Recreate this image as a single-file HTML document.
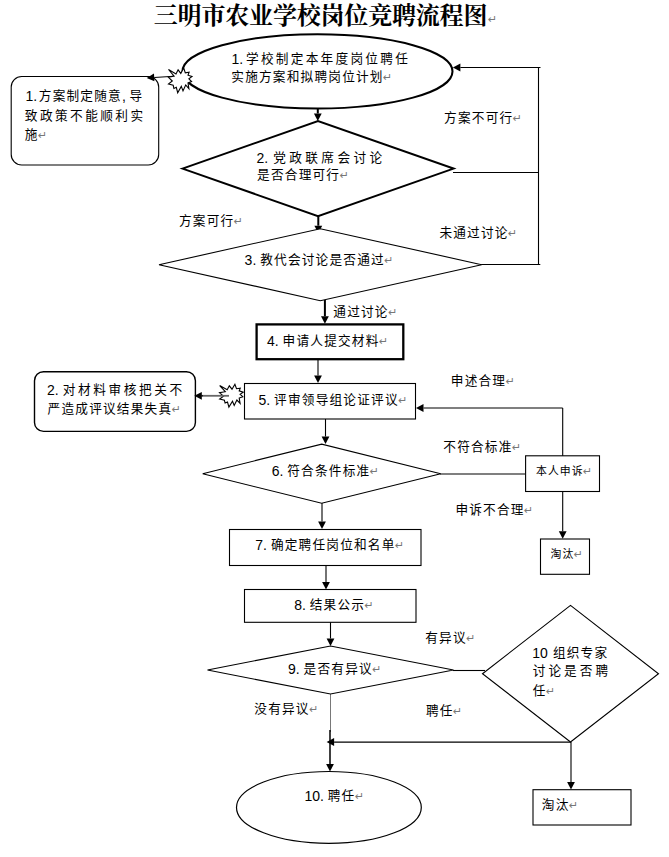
<!DOCTYPE html>
<html lang="zh-CN">
<head>
<meta charset="utf-8">
<title>三明市农业学校岗位竞聘流程图</title>
<style>
html,body{margin:0;padding:0;background:#fff;}
body{width:669px;height:857px;overflow:hidden;}
svg{display:block;}
text{font-family:"Liberation Sans", "Noto Sans CJK SC", sans-serif;fill:#000;dominant-baseline:central;white-space:pre;}
.t{font-weight:400;}
.title{font-family:"Liberation Serif","Noto Serif CJK SC",serif;font-weight:700;}
.r{fill:#777;font-size:11px;font-family:"DejaVu Sans","Liberation Sans",sans-serif;font-weight:400;}
</style>
</head>
<body>
<svg width="669" height="857" viewBox="0 0 669 857">
<rect x="0" y="0" width="669" height="857" fill="#fff"/>
<text class="title" x="153.8" y="16" font-size="24" textLength="333.6" lengthAdjust="spacing">三明市农业学校岗位竞聘流程图</text>
<text class="r" x="488" y="19">↵</text>
<line x1="538.5" y1="67" x2="538.5" y2="264.5" stroke="#000" stroke-width="1.1"/>
<line x1="540.5" y1="67.5" x2="460.40" y2="67.50" stroke="#000" stroke-width="1.1"/>
<polygon points="452.9,67.5 460.40,63.60 460.40,71.40" fill="#000"/>
<line x1="453" y1="172.5" x2="538.5" y2="172.5" stroke="#000" stroke-width="1.1"/>
<line x1="481" y1="264.5" x2="540.3" y2="264.5" stroke="#000" stroke-width="1.1"/>
<line x1="317.8" y1="108.5" x2="317.80" y2="113.50" stroke="#000" stroke-width="2"/>
<polygon points="317.8,121 313.90,113.50 321.70,113.50" fill="#000"/>
<line x1="318.3" y1="216" x2="318.30" y2="225.70" stroke="#000" stroke-width="2"/>
<polygon points="318.3,233.2 314.40,225.70 322.20,225.70" fill="#000"/>
<line x1="324.9" y1="300" x2="324.90" y2="316.30" stroke="#000" stroke-width="2"/>
<polygon points="324.9,323.8 321.00,316.30 328.80,316.30" fill="#000"/>
<line x1="318" y1="359" x2="318.00" y2="375.50" stroke="#000" stroke-width="1.1"/>
<polygon points="318,383 314.10,375.50 321.90,375.50" fill="#000"/>
<line x1="325.5" y1="419" x2="325.50" y2="436.50" stroke="#000" stroke-width="1.1"/>
<polygon points="325.5,444 321.60,436.50 329.40,436.50" fill="#000"/>
<line x1="322" y1="503" x2="322.00" y2="521.50" stroke="#000" stroke-width="1.1"/>
<polygon points="322,529 318.10,521.50 325.90,521.50" fill="#000"/>
<line x1="326" y1="565" x2="326.00" y2="582.00" stroke="#000" stroke-width="1.1"/>
<polygon points="326,589.5 322.10,582.00 329.90,582.00" fill="#000"/>
<line x1="330.5" y1="622" x2="330.50" y2="638.50" stroke="#000" stroke-width="1.1"/>
<polygon points="330.5,646 326.60,638.50 334.40,638.50" fill="#000"/>
<line x1="330.5" y1="694" x2="330.5" y2="732" stroke="#555" stroke-width="0.8"/>
<line x1="330" y1="730" x2="330.00" y2="764.00" stroke="#000" stroke-width="1.5"/>
<polygon points="330,771.5 326.10,764.00 333.90,764.00" fill="#000"/>
<line x1="440" y1="474" x2="525" y2="474" stroke="#000" stroke-width="1.1"/>
<line x1="562.7" y1="408" x2="562.7" y2="456" stroke="#000" stroke-width="1.1"/>
<line x1="562.7" y1="408" x2="423.50" y2="408.00" stroke="#000" stroke-width="1.1"/>
<polygon points="416,408 423.50,404.10 423.50,411.90" fill="#000"/>
<line x1="562.7" y1="491" x2="562.70" y2="531.30" stroke="#000" stroke-width="1.1"/>
<polygon points="562.7,538.8 558.80,531.30 566.60,531.30" fill="#000"/>
<line x1="453" y1="670.5" x2="485" y2="670.5" stroke="#000" stroke-width="1.1"/>
<line x1="571" y1="742" x2="334.10" y2="742.00" stroke="#000" stroke-width="1.25"/>
<polygon points="326.6,742 334.10,738.10 334.10,745.90" fill="#000"/>
<line x1="571" y1="742" x2="571.00" y2="782.00" stroke="#000" stroke-width="1.1"/>
<polygon points="571,789.5 567.10,782.00 574.90,782.00" fill="#000"/>
<ellipse cx="317.5" cy="71.4" rx="135" ry="37.1" fill="#fff" stroke="#000" stroke-width="2.05"/>
<rect x="11.2" y="76.5" width="147.5" height="88.5" rx="10.5" ry="10.5" fill="#fff" stroke="#000" stroke-width="1.1"/>
<polygon points="182.5,168.6 318,121.0 453.5,168.6 318,216.2" fill="#fff" stroke="#000" stroke-width="2.05" stroke-linejoin="miter"/>
<polygon points="159.0,264.7 320.3,228.7 481.6,264.7 320.3,300.7" fill="#fff" stroke="#000" stroke-width="1.1" stroke-linejoin="miter"/>
<rect x="256.6" y="324.4" width="146.7" height="34.80000000000001" rx="0" ry="0" fill="#fff" stroke="#000" stroke-width="2.3"/>
<rect x="244.5" y="383.5" width="171.0" height="35.5" rx="0" ry="0" fill="#fff" stroke="#000" stroke-width="1.1"/>
<rect x="34.5" y="371.7" width="160.9" height="59.69999999999999" rx="9" ry="9" fill="#fff" stroke="#000" stroke-width="1.4"/>
<polygon points="202.7,473.7 321.7,444.09999999999997 440.7,473.7 321.7,503.3" fill="#fff" stroke="#000" stroke-width="1.1" stroke-linejoin="miter"/>
<rect x="229.5" y="529.5" width="191.5" height="36.0" rx="0" ry="0" fill="#fff" stroke="#000" stroke-width="1.1"/>
<rect x="244.5" y="589.5" width="171.5" height="32.799999999999955" rx="0" ry="0" fill="#fff" stroke="#000" stroke-width="1.1"/>
<polygon points="207.5,670 330.5,646 453.5,670 330.5,694" fill="#fff" stroke="#000" stroke-width="1.1" stroke-linejoin="miter"/>
<ellipse cx="328.9" cy="807.4" rx="92.4" ry="35.9" fill="#fff" stroke="#000" stroke-width="1.2"/>
<rect x="525.6" y="455.8" width="73.89999999999998" height="35.69999999999999" rx="0" ry="0" fill="#fff" stroke="#000" stroke-width="1.1"/>
<rect x="540.5" y="539" width="49.0" height="35.299999999999955" rx="0" ry="0" fill="#fff" stroke="#000" stroke-width="1.1"/>
<polygon points="482.5,673.7 570.5,605.4000000000001 658.5,673.7 570.5,742.0" fill="#fff" stroke="#000" stroke-width="1.1" stroke-linejoin="miter"/>
<rect x="533" y="789.7" width="98" height="35.299999999999955" rx="0" ry="0" fill="#fff" stroke="#000" stroke-width="1.1"/>
<line x1="174" y1="76.3" x2="154.19" y2="77.46" stroke="#000" stroke-width="1.1"/>
<polygon points="146.7,77.9 153.96,73.57 154.42,81.35" fill="#000"/>
<polygon points="168.5,69.5 176.0,74.0 178.1,69.8 180.8,73.4 183.7,68.0 185.3,72.9 189.1,72.2 188.0,75.2 192.0,76.5 188.9,78.8 191.6,81.5 188.0,82.9 188.9,88.7 185.7,85.0 183.0,90.9 181.3,86.4 177.7,92.7 176.3,87.3 173.9,88.4 173.2,85.3 168.5,84.1 172.3,81.0 168.3,77.2 174.1,76.1" fill="#fff" stroke="#000" stroke-width="1.1" stroke-linejoin="miter"/>
<polygon points="219.7,385.6 227.2,389.7 229.3,385.8 232.0,389.2 234.9,384.2 236.5,388.7 240.3,388.1 239.2,390.9 243.2,392.1 240.1,394.2 242.8,396.7 239.2,398.0 240.1,403.4 236.9,400.0 234.2,405.5 232.5,401.3 228.9,407.1 227.5,402.1 225.1,403.1 224.4,400.3 219.7,399.1 223.5,396.3 219.5,392.7 225.3,391.7" fill="#fff" stroke="#000" stroke-width="1.1" stroke-linejoin="miter"/>
<line x1="201" y1="395.8" x2="229" y2="395.8" stroke="#666" stroke-width="1.8"/>
<line x1="203" y1="395.8" x2="201.80" y2="395.80" stroke="#000" stroke-width="1"/>
<polygon points="194.3,395.8 201.80,391.90 201.80,399.70" fill="#000"/>
<text class="t" y="58.9" font-size="12.67" letter-spacing="1.2"><tspan x="231.4"><tspan font-size="14" letter-spacing="0">1.</tspan></tspan><tspan x="246.0" textLength="163" lengthAdjust="spacing">学校制定本年度岗位聘任</tspan></text>
<text class="t" x="231.3" y="77.3" font-size="12.67" letter-spacing="1.2">实施方案和拟聘岗位计划<tspan class="r" dx="-0.6">↵</tspan></text>
<text class="t" y="96.1" font-size="12.67" letter-spacing="1.2"><tspan x="25.4"><tspan font-size="14" letter-spacing="0">1.</tspan></tspan><tspan x="38.8">方案制定随意<tspan font-size="14" letter-spacing="0">,</tspan></tspan><tspan x="129.4">导</tspan></text>
<text class="t" x="24.8" y="115.5" font-size="12.67" letter-spacing="1.2" textLength="119.5" lengthAdjust="spacing">致政策不能顺利实</text>
<text class="t" x="24.8" y="135.1" font-size="12.67" letter-spacing="1.2">施<tspan class="r" dx="-0.6">↵</tspan></text>
<text class="t" y="157.8" font-size="12.67" letter-spacing="1.2"><tspan x="256.4"><tspan font-size="14" letter-spacing="0">2.</tspan></tspan><tspan x="273.3" textLength="110" lengthAdjust="spacing">党政联席会讨论</tspan></text>
<text class="t" x="257.1" y="175.4" font-size="12.67" letter-spacing="1.2">是否合理可行<tspan class="r" dx="-0.6">↵</tspan></text>
<text class="t" x="444.1" y="117.8" font-size="12.67" letter-spacing="1.2">方案不可行<tspan class="r" dx="-0.6">↵</tspan></text>
<text class="t" x="179.0" y="220.6" font-size="12.67" letter-spacing="1.2">方案可行<tspan class="r" dx="-0.6">↵</tspan></text>
<text class="t" x="439.4" y="233.0" font-size="12.67" letter-spacing="1.2">未通过讨论<tspan class="r" dx="-0.6">↵</tspan></text>
<text class="t" x="244.6" y="259.5" font-size="12.67" letter-spacing="1.2"><tspan font-size="14" letter-spacing="0">3. </tspan>教代会讨论是否通过<tspan class="r" dx="-0.6">↵</tspan></text>
<text class="t" x="333.3" y="311.5" font-size="12.67" letter-spacing="1.2">通过讨论<tspan class="r" dx="-0.6">↵</tspan></text>
<text class="t" x="267" y="340.6" font-size="12.67" letter-spacing="1.2"><tspan font-size="14" letter-spacing="0">4. </tspan>申请人提交材料<tspan class="r" dx="-0.6">↵</tspan></text>
<text class="t" x="258.5" y="399.5" font-size="12.67" letter-spacing="1.2"><tspan font-size="14" letter-spacing="0">5. </tspan>评审领导组论证评议<tspan class="r" dx="-0.6">↵</tspan></text>
<text class="t" y="389.6" font-size="12.67" letter-spacing="1.2"><tspan x="46.9"><tspan font-size="14" letter-spacing="0">2.</tspan></tspan><tspan x="62.8" textLength="120.5" lengthAdjust="spacing">对材料审核把关不</tspan></text>
<text class="t" x="47.6" y="409.0" font-size="12.67" letter-spacing="1.2">严造成评议结果失真<tspan class="r" dx="-0.6">↵</tspan></text>
<text class="t" x="450.8" y="381.3" font-size="12.67" letter-spacing="1.2">申述合理<tspan class="r" dx="-0.6">↵</tspan></text>
<text class="t" x="443.3" y="447.0" font-size="12.67" letter-spacing="1.2">不符合标准<tspan class="r" dx="-0.6">↵</tspan></text>
<text class="t" x="455.4" y="509.7" font-size="12.67" letter-spacing="1.2">申诉不合理<tspan class="r" dx="-0.6">↵</tspan></text>
<text class="t" x="536.1" y="471.0" font-size="10.86" letter-spacing="1.03">本人申诉<tspan class="r" dx="-0.6">↵</tspan></text>
<text class="t" x="550.6" y="553.8" font-size="10.86" letter-spacing="1.03">淘汰<tspan class="r" dx="-0.6">↵</tspan></text>
<text class="t" x="271.7" y="471.2" font-size="12.67" letter-spacing="1.2"><tspan font-size="14" letter-spacing="0">6. </tspan>符合条件标准<tspan class="r" dx="-0.6">↵</tspan></text>
<text class="t" x="255.3" y="545.1" font-size="12.67" letter-spacing="1.2"><tspan font-size="14" letter-spacing="0">7. </tspan>确定聘任岗位和名单<tspan class="r" dx="-0.6">↵</tspan></text>
<text class="t" x="294.2" y="604.9" font-size="12.67" letter-spacing="1.2"><tspan font-size="14" letter-spacing="0">8. </tspan>结果公示<tspan class="r" dx="-0.6">↵</tspan></text>
<text class="t" x="288" y="669.0" font-size="12.67" letter-spacing="1.2"><tspan font-size="14" letter-spacing="0">9. </tspan>是否有异议<tspan class="r" dx="-0.6">↵</tspan></text>
<text class="t" x="254.3" y="709.4" font-size="12.67" letter-spacing="1.2">没有异议<tspan class="r" dx="-0.6">↵</tspan></text>
<text class="t" x="425.2" y="637.6" font-size="12.67" letter-spacing="1.2">有异议<tspan class="r" dx="-0.6">↵</tspan></text>
<text class="t" x="426.0" y="710.8" font-size="12.67" letter-spacing="1.2">聘任<tspan class="r" dx="-0.6">↵</tspan></text>
<text class="t" x="304.4" y="796.1" font-size="12.67" letter-spacing="1.2"><tspan font-size="14" letter-spacing="0">10. </tspan>聘任<tspan class="r" dx="-0.6">↵</tspan></text>
<text class="t" y="653.2" font-size="12.67" letter-spacing="1.2"><tspan x="532.2"><tspan font-size="14" letter-spacing="0">10</tspan></tspan><tspan x="552.9">组织专家</tspan></text>
<text class="t" x="532.8" y="671.3" font-size="12.67" letter-spacing="1.2" textLength="76.5" lengthAdjust="spacing">讨论是否聘</text>
<text class="t" x="532.8" y="690.8" font-size="12.67" letter-spacing="1.2">任<tspan class="r" dx="-0.6">↵</tspan></text>
<text class="t" x="541.8" y="805.4" font-size="12.67" letter-spacing="1.2">淘汰<tspan class="r" dx="-0.6">↵</tspan></text>
</svg>
</body>
</html>
